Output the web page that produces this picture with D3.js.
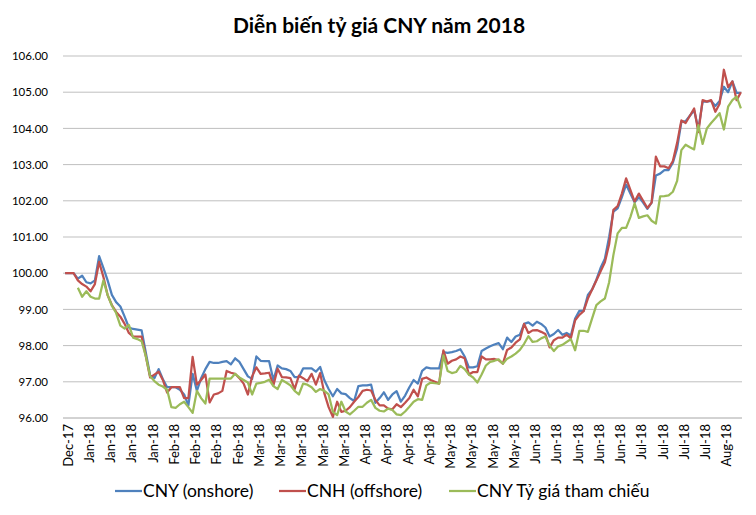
<!DOCTYPE html>
<html>
<head>
<meta charset="utf-8">
<script src="https://cdn.jsdelivr.net/npm/d3@7"></script>
<style>
  body { margin: 0; background: #fff; }
  svg { display: block; }
</style>
</head>
<body>
<svg id="chart" width="756" height="515"></svg>
<script>
const title = "Diễn biến tỷ giá CNY năm 2018";
const seriesNames = ["CNY (onshore)", "CNH (offshore)", "CNY Tỷ giá tham chiếu"];
const seriesColors = ["#4F81BD", "#C0504D", "#9BBB59"];
const xTickLabels = ["Dec-17","Jan-18","Jan-18","Jan-18","Jan-18","Feb-18","Feb-18","Feb-18","Feb-18",
  "Mar-18","Mar-18","Mar-18","Mar-18","Mar-18","Apr-18","Apr-18","Apr-18","Apr-18",
  "May-18","May-18","May-18","May-18","Jun-18","Jun-18","Jun-18","Jun-18","Jun-18",
  "Jul-18","Jul-18","Jul-18","Jul-18","Aug-18"];
const tickEvery = 5;
const yTicks = [96,97,98,99,100,101,102,103,104,105,106];

const cny = [
100.00,100.00,100.00,99.85,99.93,99.75,99.72,99.80,100.47,100.15,
99.80,99.40,99.20,99.08,98.80,98.50,98.46,98.44,98.42,97.80,
97.18,97.10,97.35,97.07,96.85,96.85,96.85,96.78,96.65,96.35,
97.22,96.75,97.10,97.35,97.55,97.52,97.52,97.55,97.57,97.48,
97.65,97.55,97.35,97.15,97.08,97.70,97.58,97.57,97.57,97.05,
97.45,97.37,97.35,97.30,97.13,97.13,97.37,97.37,97.37,97.28,
97.41,97.04,96.80,96.60,96.80,96.68,96.66,96.55,96.47,96.88,
96.90,96.90,96.92,96.42,96.55,96.71,96.50,96.65,96.74,96.45,
96.62,96.85,97.05,96.95,97.30,97.40,97.37,97.37,97.37,97.82,
97.80,97.82,97.85,97.90,97.70,97.40,97.40,97.43,97.85,97.92,
97.98,98.03,98.07,97.90,98.22,98.10,98.25,98.30,98.60,98.64,
98.55,98.66,98.60,98.50,98.25,98.32,98.43,98.30,98.35,98.28,
98.75,98.96,98.96,99.40,99.55,99.82,100.15,100.40,101.00,101.70,
101.79,102.10,102.45,102.20,101.96,102.10,101.95,101.78,101.95,102.70,
102.75,102.85,102.85,103.05,103.45,104.18,104.20,104.35,104.50,103.98,
104.74,104.74,104.76,104.62,104.76,105.15,105.00,105.30,104.98,104.98];

const cnh = [
100.00,100.00,100.00,99.80,99.70,99.63,99.50,99.70,100.31,99.90,
99.39,99.12,98.93,98.80,98.60,98.35,98.25,98.25,98.25,97.70,
97.12,97.20,97.28,97.05,96.70,96.85,96.85,96.85,96.55,96.55,
97.69,96.92,97.05,97.20,96.43,96.65,96.68,96.75,97.30,97.25,
97.22,97.10,96.95,96.65,97.15,97.40,97.22,97.23,97.25,96.90,
97.36,97.13,97.12,97.10,96.80,97.17,97.10,97.02,97.22,96.92,
97.24,96.68,96.30,96.03,96.45,96.17,96.20,96.30,96.45,96.58,
96.75,96.78,96.76,96.50,96.35,96.35,96.26,96.24,96.38,96.30,
96.42,96.55,96.78,96.60,97.08,97.12,97.05,97.00,96.95,97.87,
97.50,97.58,97.62,97.70,97.65,97.20,97.27,97.27,97.70,97.62,
97.62,97.63,97.60,97.50,97.88,97.95,98.08,98.17,98.60,98.35,
98.42,98.43,98.38,98.32,97.95,98.15,98.22,98.22,98.30,98.20,
98.70,98.85,98.95,99.30,99.55,99.80,100.05,100.30,100.80,101.75,
101.85,102.20,102.62,102.30,101.98,102.20,102.00,101.80,101.95,103.22,
102.95,102.95,102.90,103.10,103.60,104.22,104.15,104.35,104.55,103.90,
104.78,104.74,104.78,104.46,104.68,105.62,105.14,105.30,104.78,105.00];

const fixing = [
null,null,null,99.60,99.35,99.50,99.35,99.30,99.30,99.80,
99.40,99.10,98.90,98.55,98.47,98.57,98.22,98.18,98.12,97.70,
97.15,97.02,96.92,96.87,96.78,96.30,96.28,96.38,96.45,96.30,
96.14,96.75,96.55,96.40,97.09,97.09,97.09,97.09,97.09,97.09,
97.22,97.12,97.05,96.98,96.65,96.95,96.97,97.00,97.06,96.88,
96.80,97.05,96.98,96.90,96.75,96.65,96.95,96.92,96.85,96.72,
96.80,96.75,96.65,96.17,96.08,96.45,96.18,96.10,96.20,96.31,
96.31,96.42,96.50,96.28,96.20,96.18,96.26,96.22,96.10,96.08,
96.18,96.31,96.45,96.52,96.50,96.90,96.98,96.96,96.95,97.73,
97.30,97.24,97.27,97.44,97.35,97.20,97.12,96.98,97.20,97.45,
97.55,97.58,97.62,97.50,97.64,97.70,97.78,97.88,98.05,98.26,
98.10,98.12,98.20,98.25,98.00,97.85,97.98,98.02,98.10,98.18,
97.87,98.41,98.41,98.38,98.75,99.12,99.22,99.30,99.75,100.50,
101.10,101.25,101.25,101.55,101.93,101.53,101.57,101.60,101.45,101.37,
102.12,102.13,102.15,102.25,102.55,103.40,103.55,103.48,103.42,104.09,
103.57,104.00,104.15,104.28,104.42,103.97,104.60,104.78,104.88,104.55];

const series = [cny, cnh, fixing];
const N = cny.length;

const svg = d3.select("#chart");
const plotTop = 56, plotBottom = 418;

const x = d3.scalePoint().domain(d3.range(N)).range([63, 743]).padding(0.5);
const y = d3.scaleLinear().domain([96, 106]).range([plotBottom, plotTop]);

// title
svg.append("text")
  .attr("x", 379).attr("y", 33)
  .attr("text-anchor", "middle")
  .style("font-family", "Lato, 'Open Sans', sans-serif")
  .style("font-weight", "bold")
  .style("font-size", "21px")
  .attr("fill", "#000")
  .text(title);

// gridlines
svg.append("g").selectAll("line")
  .data(yTicks)
  .join("line")
  .attr("x1", 63).attr("x2", 742)
  .attr("y1", d => y(d)).attr("y2", d => y(d))
  .attr("stroke", d => d === 96 ? "#A6A6A6" : "#BFBFBF")
  .attr("stroke-width", 1);

// y axis labels
const yAxis = d3.axisLeft(y).tickValues(yTicks).tickFormat(d3.format(".2f")).tickSize(0).tickPadding(0);
const gy = svg.append("g").attr("transform", "translate(48,0)").call(yAxis);
gy.select(".domain").remove();
gy.selectAll("text")
  .style("font-family", "Lato, sans-serif")
  .style("font-size", "11.5px")
  .attr("fill", "#000");

// x axis labels
const tickIdx = xTickLabels.map((_, i) => i * tickEvery);
const xAxis = d3.axisBottom(x).tickValues(tickIdx).tickFormat((d) => xTickLabels[d / tickEvery]).tickSize(0);
const gx = svg.append("g").attr("transform", `translate(0,${plotBottom})`).call(xAxis);
gx.select(".domain").remove();
gx.selectAll("text")
  .style("font-family", "Lato, sans-serif")
  .style("font-size", "13px")
  .attr("fill", "#000")
  .attr("text-anchor", "end")
  .attr("transform", "translate(2.5,0) rotate(-90)")
  .attr("x", -6).attr("y", 0).attr("dy", "0.35em");

// lines
const line = d3.line()
  .defined(d => d != null)
  .x((d, i) => x(i))
  .y(d => y(d));

series.forEach((s, k) => {
  svg.append("path")
    .datum(s)
    .attr("fill", "none")
    .attr("stroke", seriesColors[k])
    .attr("stroke-width", 2.25)
    .attr("stroke-linejoin", "round")
    .attr("d", line);
});

// legend
const legendX = [115, 279, 449];
const legend = svg.append("g");
seriesNames.forEach((name, k) => {
  legend.append("line")
    .attr("x1", legendX[k]).attr("x2", legendX[k] + 27)
    .attr("y1", 491).attr("y2", 491)
    .attr("stroke", seriesColors[k]).attr("stroke-width", 2.25);
  legend.append("text")
    .attr("x", legendX[k] + 28).attr("y", 491).attr("dy", "0.35em")
    .style("font-family", "Lato, sans-serif")
    .style("font-size", "17.5px")
    .attr("fill", "#000")
    .text(name);
});
</script>
</body>
</html>
